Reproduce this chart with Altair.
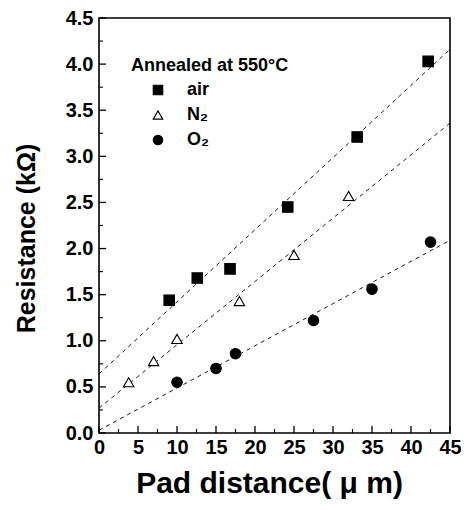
import altair as alt
import pandas as pd

# Data
air_x = [9.0, 12.6, 16.8, 24.2, 33.1, 42.2]
air_y = [1.44, 1.68, 1.78, 2.45, 3.21, 4.03]
n2_x = [3.8, 7.0, 10.0, 18.0, 25.0, 32.0]
n2_y = [0.55, 0.78, 1.02, 1.43, 1.93, 2.57]
o2_x = [10.0, 15.0, 17.5, 27.5, 35.0, 42.5]
o2_y = [0.55, 0.70, 0.86, 1.22, 1.56, 2.07]

# fitted line end points (x = 0 and x = 45)
fit_x = [0, 45]
air_fit = [0.64, 4.16]
n2_fit = [0.27, 3.36]
o2_fit = [0.03, 2.09]

series = ["air", "N₂", "O₂"]
x_major = [0, 5, 10, 15, 20, 25, 30, 35, 40, 45]
x_minor = [2.5, 7.5, 12.5, 17.5, 22.5, 27.5, 32.5, 37.5, 42.5]
y_major = [0.0, 0.5, 1.0, 1.5, 2.0, 2.5, 3.0, 3.5, 4.0, 4.5]
y_minor = [0.25, 0.75, 1.25, 1.75, 2.25, 2.75, 3.25, 3.75, 4.25]

FONT = "Liberation Sans"
W, H = 351, 415

pts = pd.DataFrame(
    [{"x": x, "y": y, "gas": series[0]} for x, y in zip(air_x, air_y)]
    + [{"x": x, "y": y, "gas": series[1]} for x, y in zip(n2_x, n2_y)]
    + [{"x": x, "y": y, "gas": series[2]} for x, y in zip(o2_x, o2_y)]
)
fits = pd.DataFrame(
    [{"x": x, "y": y, "gas": series[0]} for x, y in zip(fit_x, air_fit)]
    + [{"x": x, "y": y, "gas": series[1]} for x, y in zip(fit_x, n2_fit)]
    + [{"x": x, "y": y, "gas": series[2]} for x, y in zip(fit_x, o2_fit)]
)

xscale = alt.Scale(domain=[0, 45], nice=False, zero=False)
yscale = alt.Scale(domain=[0, 4.5], nice=False, zero=False)

xaxis = alt.Axis(
    values=x_major, format="d", ticks=False, domain=False, grid=False,
    labelFont=FONT, labelFontSize=20, labelFontWeight="bold", labelColor="black",
    labelPadding=4, labelFlush=False, labelOverlap=False,
    title="Pad distance( μ m)", titleFont=FONT, titleFontSize=30,
    titleFontWeight="bold", titleColor="black", titlePadding=11, titleX=170,
)
yaxis = alt.Axis(
    values=y_major, format=".1f", ticks=False, domain=False, grid=False,
    labelFont=FONT, labelFontSize=20, labelFontWeight="bold", labelColor="black",
    labelPadding=6, labelFlush=False, labelOverlap=False,
    title="Resistance (kΩ)", titleFont=FONT, titleFontSize=25,
    titleFontWeight="bold", titleColor="black", titlePadding=26, titleY=220,
)

X = lambda f: alt.X(f, scale=xscale, axis=xaxis)
Y = lambda f: alt.Y(f, scale=yscale, axis=yaxis)

lines = alt.Chart(fits).mark_line(
    color="black", strokeWidth=0.9, strokeDash=[4, 4], clip=True
).encode(
    x=X("x:Q"),
    y=Y("y:Q"),
    detail="gas:N",
)

leg = alt.Legend(
    title="Annealed at 550°C", orient="none", legendX=32, legendY=39,
    titleFont=FONT, titleFontSize=18, titleFontWeight="bold",
    titleColor="black", titlePadding=6,
    labelFont=FONT, labelFontSize=18, labelFontWeight="bold",
    labelColor="black", labelOffset=20, symbolOffset=18,
    rowPadding=7, symbolSize=90, symbolStrokeColor="black",
    symbolStrokeWidth=1.1,
)

points = alt.Chart(pts).mark_point(
    strokeWidth=1.1, opacity=1
).encode(
    x=X("x:Q"),
    y=Y("y:Q"),
    shape=alt.Shape(
        "gas:N",
        scale=alt.Scale(domain=series, range=["square", "triangle-up", "circle"]),
        legend=leg,
    ),
    fill=alt.Fill(
        "gas:N",
        scale=alt.Scale(domain=series, range=["black", "white", "black"]),
        legend=leg,
    ),
    stroke=alt.Stroke(
        "gas:N",
        scale=alt.Scale(domain=series, range=["black", "black", "black"]),
        legend=leg,
    ),
    size=alt.value(110),
)

# inward tick marks
xt_major = alt.Chart(pd.DataFrame({"x": x_major})).mark_rule(color="black", strokeWidth=1.3).encode(
    x=X("x:Q"), y=alt.value(H), y2=alt.value(H - 7))
xt_minor = alt.Chart(pd.DataFrame({"x": x_minor})).mark_rule(color="black", strokeWidth=1.1).encode(
    x=X("x:Q"), y=alt.value(H), y2=alt.value(H - 4))
yt_major = alt.Chart(pd.DataFrame({"y": y_major})).mark_rule(color="black", strokeWidth=1.3).encode(
    y=Y("y:Q"), x=alt.value(0), x2=alt.value(7))
yt_minor = alt.Chart(pd.DataFrame({"y": y_minor})).mark_rule(color="black", strokeWidth=1.1).encode(
    y=Y("y:Q"), x=alt.value(0), x2=alt.value(4))

chart = alt.layer(lines, xt_major, xt_minor, yt_major, yt_minor, points).properties(
    width=W, height=H,
    autosize=alt.AutoSizeParams(type="none"),
    padding={"left": 91, "top": 10, "right": 11, "bottom": 68},
    background="white",
).configure_view(stroke="black", strokeWidth=1.6)

chart.save("out.html", embed_options={"renderer": "svg", "actions": False})
